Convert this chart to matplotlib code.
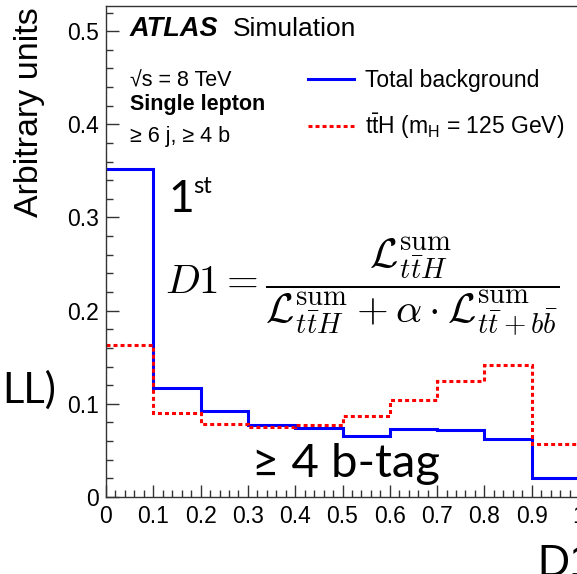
import numpy as np
import matplotlib
matplotlib.use("Agg")
import matplotlib.pyplot as plt
from matplotlib.ticker import MultipleLocator

plt.rcParams["font.family"] = ["Liberation Sans", "DejaVu Sans"]
plt.rcParams["mathtext.fontset"] = "custom"
plt.rcParams["mathtext.rm"] = "Liberation Sans"
plt.rcParams["mathtext.it"] = "Liberation Sans:italic"

# D1 discriminant, >= 6 j, >= 4 b, single lepton
bin_edges = [0.0, 0.1, 0.2, 0.3, 0.4, 0.5, 0.6, 0.7, 0.8, 0.9, 1.0]
total_bkg = [0.352, 0.117, 0.092, 0.077, 0.074, 0.065, 0.073, 0.072, 0.062, 0.020]
tth_signal = [0.163, 0.090, 0.078, 0.075, 0.077, 0.087, 0.104, 0.125, 0.142, 0.057]

W, H = 577, 574
fig = plt.figure(figsize=(W / 100, H / 100), dpi=100)


def fx(x):
    return x / W


def fy(y):
    return 1 - y / H


# axes frame: x=0 at px 106, x=1 at px ~579; y=0 at px 497, top at px 6
ax = fig.add_axes([fx(106), fy(497), (579 - 106) / W, (497 - 6) / H])
ax.set_xlim(0, 1)
ax.set_ylim(0, 0.527)

ax.stairs(total_bkg, bin_edges, baseline=None, color="#0000ff", lw=2.2,
          label="Total background")
ax.stairs(tth_signal, bin_edges, baseline=None, color="#ff0000", lw=2.2,
          linestyle=(0, (1.3, 1.0)),
          label=r"t$\bar{\rm t}$H (m$_{\rm H}$ = 125 GeV)")

ax.xaxis.set_minor_locator(MultipleLocator(0.02))
ax.yaxis.set_minor_locator(MultipleLocator(0.02))
ax.set_xticks(np.round(np.arange(0, 1.01, 0.1), 1))
ax.set_xticklabels(["0", "0.1", "0.2", "0.3", "0.4", "0.5", "0.6", "0.7", "0.8", "0.9", "1"])
ax.set_yticks([0, 0.1, 0.2, 0.3, 0.4, 0.5])
ax.set_yticklabels(["0", "0.1", "0.2", "0.3", "0.4", "0.5"])
ax.tick_params(which="both", direction="in", colors="#333333", labelcolor="black",
               labelsize=16.5, width=1.0)
ax.tick_params(axis="y", which="major", length=9.5, pad=5)
ax.tick_params(axis="y", which="minor", length=5)
ax.tick_params(axis="x", which="major", length=8.6, pad=6)
ax.tick_params(axis="x", which="minor", length=5)
for sp in ax.spines.values():
    sp.set_color("#333333")
    sp.set_linewidth(1.0)

leg = ax.legend(loc="upper left", bbox_to_anchor=(fx(308), fy(69)),
                bbox_transform=fig.transFigure, frameon=False, fontsize=16.5,
                handlelength=2.0, handletextpad=0.5, labelspacing=0.85,
                borderpad=0, borderaxespad=0)

# ATLAS label block
fig.text(fx(130), fy(36), "ATLAS", fontsize=19.5, fontweight="bold", style="italic",
         va="baseline")
fig.text(fx(233), fy(36), "Simulation", fontsize=19, va="baseline")
fig.text(fx(130), fy(86), "\u221as = 8 TeV", fontsize=15.5, va="baseline")
fig.text(fx(130), fy(110), "Single lepton", fontsize=15.5, fontweight="bold",
         va="baseline")
fig.text(fx(130), fy(142), "\u2265 6 j, \u2265 4 b", fontsize=15.5, va="baseline")

fig.text(fx(30), fy(217), "Arbitrary units", fontsize=24.5, rotation=90,
         ha="center", va="bottom")

# slide overlays
fig.text(fx(168), fy(212), "1", fontsize=32, family="Lato", va="baseline")
fig.text(fx(193), fy(193), "st", fontsize=17, family="Lato", va="baseline")
fig.text(fx(165), fy(294),
         r"$D1 = \dfrac{\mathcal{L}^{\rm sum}_{t\bar{t}H}}"
         r"{\mathcal{L}^{\rm sum}_{t\bar{t}H} + \alpha \cdot \mathcal{L}^{\rm sum}_{t\bar{t}+b\bar{b}}}$",
         fontsize=29.5, math_fontfamily="cm", va="baseline")
fig.text(fx(252), fy(477), "\u2265 4 b-tag", fontsize=34, family="Lato", va="baseline")
fig.text(fx(2), fy(403), "LL)", fontsize=30, family="Lato", va="baseline")
fig.text(fx(537), fy(576), "D1", fontsize=32, va="baseline")

fig.savefig("out.png", dpi=100)
